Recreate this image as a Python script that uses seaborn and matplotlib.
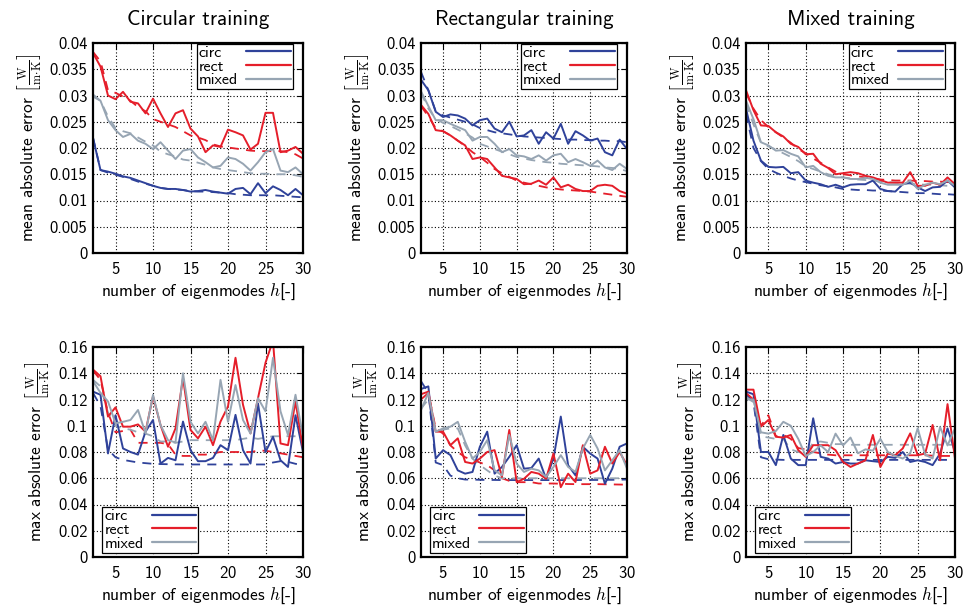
import numpy as np
import pandas as pd
import matplotlib
matplotlib.use("Agg")
import matplotlib.pyplot as plt
from matplotlib.lines import Line2D
from matplotlib.ticker import FixedLocator, FuncFormatter
import seaborn as sns

# ---------------- data ----------------
modes = list(range(2, 31))
series_names = ["circ", "rect", "mixed"]
panel_titles = ["Circular training", "Rectangular training", "Mixed training"]
xlabel_text = r"number of eigenmodes $h$[-]"
ylabel_mean = r"mean absolute error $\left[\frac{\mathrm{W}}{\mathrm{m{\cdot}K}}\right]$"
ylabel_max = r"max absolute error $\left[\frac{\mathrm{W}}{\mathrm{m{\cdot}K}}\right]$"
mean_yticks = [0, 0.005, 0.01, 0.015, 0.02, 0.025, 0.03, 0.035, 0.04]
max_yticks = [0, 0.02, 0.04, 0.06, 0.08, 0.1, 0.12, 0.14, 0.16]
x_ticks = [5, 10, 15, 20, 25, 30]

# Circular training - mean error (solid = measured, dashed = reference)
circtrain_mean_circ = [0.0219,0.0158,0.0155,0.0151,0.0146,0.0143,0.0138,0.0133,0.0128,0.0124,0.0122,0.0122,0.0120,0.0117,0.0118,0.0120,0.0117,0.0115,0.0113,0.0122,0.0124,0.0112,0.0133,0.0114,0.0127,0.0120,0.0110,0.0122,0.0110]
circtrain_mean_circ_d = [0.0220,0.0158,0.0153,0.0149,0.0145,0.0141,0.0136,0.0132,0.0128,0.0124,0.0122,0.0121,0.0120,0.0118,0.0117,0.0117,0.0116,0.0115,0.0114,0.0112,0.0111,0.0110,0.0110,0.0110,0.0110,0.0109,0.0108,0.0107,0.0106]
circtrain_mean_rect = [0.0381,0.0355,0.0300,0.0293,0.0307,0.0288,0.0285,0.0266,0.0294,0.0266,0.0240,0.0266,0.0272,0.0237,0.0222,0.0192,0.0205,0.0202,0.0235,0.0230,0.0224,0.0197,0.0208,0.0267,0.0267,0.0192,0.0195,0.0202,0.0189]
circtrain_mean_rect_d = [0.0383,0.0365,0.0310,0.0305,0.0298,0.0290,0.0278,0.0270,0.0255,0.0250,0.0245,0.0240,0.0232,0.0224,0.0220,0.0215,0.0207,0.0203,0.0201,0.0199,0.0197,0.0195,0.0194,0.0194,0.0194,0.0194,0.0192,0.0188,0.0180]
circtrain_mean_mixed = [0.0298,0.0290,0.0253,0.0234,0.0221,0.0227,0.0214,0.0208,0.0198,0.0211,0.0195,0.0179,0.0195,0.0198,0.0182,0.0173,0.0163,0.0166,0.0182,0.0179,0.0170,0.0157,0.0173,0.0192,0.0198,0.0157,0.0154,0.0163,0.0150]
circtrain_mean_mixed_d = [0.0302,0.0290,0.0260,0.0238,0.0232,0.0228,0.0220,0.0212,0.0205,0.0193,0.0188,0.0184,0.0178,0.0176,0.0172,0.0168,0.0163,0.0160,0.0158,0.0156,0.0154,0.0152,0.0151,0.0151,0.0150,0.0150,0.0150,0.0148,0.0145]

# Rectangular training - mean error
recttrain_mean_circ = [0.0330,0.0310,0.0269,0.0259,0.0264,0.0262,0.0256,0.0243,0.0253,0.0256,0.0237,0.0230,0.0250,0.0222,0.0224,0.0234,0.0208,0.0230,0.0218,0.0246,0.0208,0.0232,0.0224,0.0214,0.0218,0.0192,0.0186,0.0216,0.0198]
recttrain_mean_circ_d = [0.0345,0.0310,0.0270,0.0262,0.0258,0.0254,0.0250,0.0245,0.0238,0.0234,0.0230,0.0228,0.0226,0.0224,0.0222,0.0221,0.0220,0.0219,0.0218,0.0217,0.0216,0.0216,0.0215,0.0215,0.0214,0.0214,0.0213,0.0213,0.0211]
recttrain_mean_rect = [0.0282,0.0265,0.0234,0.0232,0.0224,0.0214,0.0205,0.0179,0.0182,0.0179,0.0163,0.0147,0.0144,0.0141,0.0131,0.0132,0.0138,0.0130,0.0144,0.0125,0.0130,0.0122,0.0118,0.0118,0.0128,0.0130,0.0128,0.0118,0.0113]
recttrain_mean_rect_d = [0.0280,0.0260,0.0238,0.0232,0.0224,0.0214,0.0204,0.0192,0.0183,0.0172,0.0160,0.0152,0.0145,0.0138,0.0134,0.0131,0.0128,0.0125,0.0123,0.0121,0.0120,0.0119,0.0118,0.0117,0.0115,0.0113,0.0111,0.0109,0.0107]
recttrain_mean_mixed = [0.0308,0.0280,0.0253,0.0253,0.0246,0.0240,0.0234,0.0214,0.0221,0.0221,0.0208,0.0192,0.0198,0.0186,0.0184,0.0179,0.0186,0.0176,0.0186,0.0189,0.0173,0.0179,0.0173,0.0166,0.0176,0.0163,0.0158,0.0170,0.0160]
recttrain_mean_mixed_d = [0.0305,0.0275,0.0255,0.0248,0.0242,0.0235,0.0228,0.0220,0.0208,0.0203,0.0198,0.0193,0.0188,0.0183,0.0180,0.0177,0.0175,0.0173,0.0172,0.0170,0.0169,0.0168,0.0167,0.0166,0.0165,0.0163,0.0162,0.0160,0.0156]

# Mixed training - mean error
mixtrain_mean_circ = [0.0275,0.0214,0.0176,0.0164,0.0163,0.0164,0.0152,0.0154,0.0138,0.0134,0.0131,0.0126,0.0130,0.0125,0.0130,0.0131,0.0131,0.0138,0.0122,0.0118,0.0117,0.0131,0.0134,0.0125,0.0118,0.0125,0.0126,0.0138,0.0125]
mixtrain_mean_circ_d = [0.0265,0.0200,0.0175,0.0160,0.0153,0.0147,0.0142,0.0138,0.0135,0.0132,0.0129,0.0127,0.0125,0.0122,0.0121,0.0120,0.0120,0.0119,0.0119,0.0118,0.0117,0.0116,0.0115,0.0114,0.0114,0.0113,0.0112,0.0112,0.0111]
mixtrain_mean_rect = [0.0310,0.0272,0.0243,0.0242,0.0230,0.0222,0.0208,0.0202,0.0188,0.0189,0.0170,0.0162,0.0150,0.0152,0.0154,0.0152,0.0147,0.0144,0.0139,0.0134,0.0134,0.0134,0.0154,0.0128,0.0128,0.0134,0.0130,0.0144,0.0131]
mixtrain_mean_rect_d = [0.0305,0.0275,0.0253,0.0240,0.0230,0.0220,0.0210,0.0198,0.0190,0.0180,0.0172,0.0163,0.0155,0.0150,0.0148,0.0146,0.0144,0.0142,0.0140,0.0139,0.0138,0.0138,0.0138,0.0137,0.0137,0.0136,0.0136,0.0135,0.0135]
mixtrain_mean_mixed = [0.0290,0.0255,0.0211,0.0205,0.0195,0.0196,0.0189,0.0184,0.0163,0.0166,0.0154,0.0147,0.0144,0.0144,0.0141,0.0141,0.0143,0.0141,0.0134,0.0130,0.0130,0.0130,0.0138,0.0122,0.0130,0.0134,0.0131,0.0138,0.0128]
mixtrain_mean_mixed_d = [0.0285,0.0245,0.0210,0.0203,0.0197,0.0190,0.0183,0.0175,0.0165,0.0160,0.0155,0.0150,0.0146,0.0144,0.0142,0.0140,0.0139,0.0138,0.0136,0.0135,0.0134,0.0133,0.0132,0.0131,0.0130,0.0130,0.0129,0.0128,0.0127]

# Circular training - max error
circtrain_max_circ = [0.1260,0.1236,0.0789,0.1080,0.0827,0.0800,0.0780,0.0955,0.1044,0.0712,0.0755,0.0737,0.1032,0.0814,0.0730,0.0730,0.0755,0.0852,0.0814,0.1083,0.0814,0.0712,0.1170,0.0800,0.0916,0.0737,0.0686,0.1080,0.0800]
circtrain_max_circ_d = [0.1250,0.1150,0.0820,0.0760,0.0740,0.0730,0.0720,0.0715,0.0710,0.0708,0.0707,0.0706,0.0705,0.0705,0.0705,0.0705,0.0705,0.0705,0.0705,0.0705,0.0705,0.0705,0.0705,0.0705,0.0720,0.0730,0.0725,0.0710,0.0700]
circtrain_max_rect = [0.1428,0.1377,0.1070,0.1140,0.0993,0.0993,0.1010,0.0955,0.1224,0.1006,0.0840,0.0980,0.1364,0.0968,0.0904,0.0993,0.0852,0.1032,0.1147,0.1518,0.1160,0.0942,0.1210,0.1480,0.1650,0.0865,0.0852,0.1185,0.0827]
circtrain_max_rect_d = [0.1420,0.1350,0.1100,0.0950,0.0960,0.0970,0.0870,0.0870,0.0870,0.0870,0.0860,0.0780,0.0770,0.0770,0.0780,0.0780,0.0790,0.0800,0.0800,0.0800,0.0800,0.0800,0.0810,0.0810,0.0800,0.0790,0.0780,0.0770,0.0760]
circtrain_max_mixed = [0.1340,0.1250,0.1185,0.1019,0.1030,0.1044,0.1120,0.0942,0.1236,0.1006,0.0890,0.0873,0.1400,0.1030,0.0942,0.1030,0.0890,0.1350,0.1030,0.1310,0.1044,0.0940,0.1210,0.1110,0.1518,0.1110,0.0930,0.1236,0.0916]
circtrain_max_mixed_d = [0.1350,0.1300,0.1100,0.1000,0.0980,0.0970,0.0950,0.0940,0.0920,0.0880,0.0880,0.0870,0.0880,0.0890,0.0890,0.0890,0.0890,0.0890,0.0890,0.0890,0.0900,0.0910,0.0900,0.0910,0.0920,0.0920,0.0920,0.0920,0.0920]

# Rectangular training - max error
recttrain_max_circ = [0.1280,0.1300,0.0750,0.0814,0.0776,0.0660,0.0635,0.0648,0.0840,0.0955,0.0635,0.0686,0.0763,0.0852,0.0673,0.0678,0.0750,0.0596,0.0750,0.1070,0.0699,0.0622,0.0840,0.0788,0.0750,0.0558,0.0673,0.0840,0.0865]
recttrain_max_circ_d = [0.1340,0.1250,0.0720,0.0700,0.0620,0.0600,0.0590,0.0590,0.0588,0.0587,0.0587,0.0586,0.0586,0.0586,0.0586,0.0586,0.0586,0.0586,0.0586,0.0586,0.0586,0.0586,0.0587,0.0587,0.0587,0.0588,0.0588,0.0589,0.0590]
recttrain_max_rect = [0.1240,0.1260,0.0955,0.0955,0.0852,0.0904,0.0724,0.0712,0.0750,0.0800,0.0814,0.0610,0.0968,0.0571,0.0596,0.0648,0.0635,0.0596,0.0788,0.0532,0.0635,0.0571,0.0852,0.0635,0.0660,0.0840,0.0712,0.0800,0.0699]
recttrain_max_rect_d = [0.1200,0.1250,0.0980,0.0940,0.0850,0.0800,0.0760,0.0740,0.0720,0.0700,0.0660,0.0600,0.0580,0.0570,0.0570,0.0570,0.0560,0.0560,0.0560,0.0558,0.0556,0.0555,0.0555,0.0555,0.0555,0.0554,0.0553,0.0552,0.0551]
recttrain_max_mixed = [0.1120,0.1250,0.0955,0.0980,0.0993,0.1030,0.0878,0.0750,0.0800,0.0890,0.0660,0.0622,0.0930,0.0712,0.0648,0.0673,0.0660,0.0610,0.0686,0.0776,0.0686,0.0648,0.0827,0.0930,0.0827,0.0660,0.0737,0.0814,0.0673]
recttrain_max_mixed_d = [0.1130,0.1200,0.0960,0.0970,0.0980,0.0980,0.0850,0.0750,0.0700,0.0660,0.0620,0.0600,0.0600,0.0600,0.0600,0.0600,0.0600,0.0600,0.0600,0.0600,0.0600,0.0600,0.0600,0.0600,0.0600,0.0600,0.0600,0.0600,0.0600]

# Mixed training - max error
mixtrain_max_circ = [0.1260,0.1240,0.0800,0.0800,0.0700,0.0930,0.0750,0.0700,0.0700,0.1057,0.0763,0.0750,0.0712,0.0724,0.0712,0.0712,0.0737,0.0730,0.0724,0.0763,0.0755,0.0800,0.0724,0.0737,0.0724,0.0700,0.0788,0.0980,0.0800]
mixtrain_max_circ_d = [0.1240,0.1180,0.0760,0.0745,0.0742,0.0740,0.0740,0.0740,0.0740,0.0740,0.0740,0.0740,0.0740,0.0740,0.0740,0.0740,0.0740,0.0740,0.0740,0.0740,0.0740,0.0740,0.0740,0.0740,0.0740,0.0740,0.0740,0.0740,0.0740]
mixtrain_max_rect = [0.1275,0.1275,0.0993,0.1044,0.0916,0.0910,0.0930,0.0814,0.0763,0.0852,0.0852,0.0852,0.0814,0.0724,0.0686,0.0712,0.0737,0.0930,0.0686,0.0788,0.0776,0.0827,0.0942,0.0776,0.0788,0.1006,0.0737,0.1165,0.0750]
mixtrain_max_rect_d = [0.1250,0.1200,0.1000,0.1080,0.0920,0.0930,0.0900,0.0830,0.0820,0.0800,0.0790,0.0780,0.0775,0.0775,0.0775,0.0775,0.0775,0.0775,0.0775,0.0775,0.0775,0.0775,0.0775,0.0775,0.0775,0.0772,0.0770,0.0770,0.0770]
mixtrain_max_mixed = [0.1200,0.1200,0.0950,0.0940,0.0960,0.1030,0.1000,0.0900,0.0770,0.0800,0.0850,0.0800,0.0940,0.0850,0.0910,0.0790,0.0820,0.0810,0.0900,0.0800,0.0770,0.0750,0.0790,0.0980,0.0780,0.0750,0.0990,0.0850,0.0980]
mixtrain_max_mixed_d = [0.1220,0.1180,0.0920,0.0910,0.0900,0.0900,0.0820,0.0800,0.0790,0.0870,0.0880,0.0870,0.0860,0.0860,0.0855,0.0855,0.0855,0.0855,0.0855,0.0855,0.0855,0.0855,0.0855,0.0855,0.0855,0.0855,0.0855,0.0855,0.0855]

panels = [
    [(circtrain_mean_circ, circtrain_mean_circ_d), (circtrain_mean_rect, circtrain_mean_rect_d), (circtrain_mean_mixed, circtrain_mean_mixed_d)],
    [(recttrain_mean_circ, recttrain_mean_circ_d), (recttrain_mean_rect, recttrain_mean_rect_d), (recttrain_mean_mixed, recttrain_mean_mixed_d)],
    [(mixtrain_mean_circ, mixtrain_mean_circ_d), (mixtrain_mean_rect, mixtrain_mean_rect_d), (mixtrain_mean_mixed, mixtrain_mean_mixed_d)],
    [(circtrain_max_circ, circtrain_max_circ_d), (circtrain_max_rect, circtrain_max_rect_d), (circtrain_max_mixed, circtrain_max_mixed_d)],
    [(recttrain_max_circ, recttrain_max_circ_d), (recttrain_max_rect, recttrain_max_rect_d), (recttrain_max_mixed, recttrain_max_mixed_d)],
    [(mixtrain_max_circ, mixtrain_max_circ_d), (mixtrain_max_rect, mixtrain_max_rect_d), (mixtrain_max_mixed, mixtrain_max_mixed_d)],
]

colors = {"circ": "#2f429a", "rect": "#e51e2a", "mixed": "#97a5b3"}

# ---------------- style ----------------
sns.set_theme(style="white")
plt.rcParams["font.family"] = ["cmss10", "DejaVu Sans"]
plt.rcParams["mathtext.fontset"] = "cm"
plt.rcParams["axes.unicode_minus"] = False
plt.rcParams["axes.formatter.use_mathtext"] = True

fig = plt.figure(figsize=(9.68, 6.13), dpi=100)
W, H = 968.0, 613.0
col_l = [93, 421, 746]
col_w = [210, 206, 209]
row_top = [43, 347]
ax_h = 210

fmt = FuncFormatter(lambda v, p: ("%g" % round(v, 4)))
LEG_FS = 11.5
HTP = 0.5

legends = []
for idx, pdata in enumerate(panels):
    r, c = divmod(idx, 3)
    ax = fig.add_axes([col_l[c] / W, 1 - (row_top[r] + ax_h) / H, col_w[c] / W, ax_h / H])
    rows = []
    for name, (solid, dashed) in zip(series_names, pdata):
        for xv, yv in zip(modes, solid):
            rows.append((xv, yv, name, "solid"))
        for xv, yv in zip(modes, dashed):
            rows.append((xv, yv, name, "dashed"))
    df = pd.DataFrame(rows, columns=["h", "err", "geom", "kind"])
    for name in series_names:
        sub = df[(df.geom == name) & (df.kind == "dashed")]
        sns.lineplot(data=sub, x="h", y="err", ax=ax, color=colors[name], lw=1.3,
                     dashes=False, legend=False, estimator=None, sort=False)
        ax.lines[-1].set_dashes([5, 4])
    for name in series_names:
        sub = df[(df.geom == name) & (df.kind == "solid")]
        sns.lineplot(data=sub, x="h", y="err", ax=ax, color=colors[name], lw=1.4,
                     legend=False, estimator=None, sort=False)

    ax.set_xlim(2, 30)
    yt = mean_yticks if r == 0 else max_yticks
    ax.set_ylim(yt[0], yt[-1])
    ax.xaxis.set_major_locator(FixedLocator(x_ticks))
    ax.yaxis.set_major_locator(FixedLocator(yt))
    ax.yaxis.set_major_formatter(fmt)
    ax.grid(True, color="black", linestyle=(0, (1, 2)), linewidth=0.8)
    ax.tick_params(axis="both", direction="in", length=4, width=0.8, top=True, right=True,
                   labelsize=12, colors="black", pad=4)
    ax.tick_params(axis="x", pad=6)
    for sp in ax.spines.values():
        sp.set_linewidth(1.6)
        sp.set_color("black")
        sp.set_visible(True)
    ax.set_facecolor("white")
    ax.set_xlabel(xlabel_text, fontsize=12.5, labelpad=3, color="black")
    ax.set_ylabel(ylabel_mean if r == 0 else ylabel_max, fontsize=12.5, labelpad=5, color="black")
    if r == 0:
        ax.set_title(panel_titles[c], fontsize=15.2, pad=13, color="black")

    handles = [Line2D([], [], color=colors[n], lw=1.6) for n in series_names]
    common = dict(markerfirst=False, fontsize=LEG_FS, handlelength=2.8, handletextpad=HTP,
                  labelspacing=-0.02, borderpad=0.12, borderaxespad=0.0, fancybox=False,
                  framealpha=1, edgecolor="black")
    if r == 0:
        leg = ax.legend(handles, series_names, loc="upper right", bbox_to_anchor=(0.95, 0.997), **common)
    else:
        leg = ax.legend(handles, series_names, loc="lower left", bbox_to_anchor=(0.045, 0.02), **common)
    leg.get_frame().set_linewidth(0.9)
    for t in leg.get_texts():
        t.set_color("black")
    legends.append(leg)

# left-align legend texts while keeping the line samples right-aligned (gnuplot style)
renderer = fig.canvas.get_renderer()
for leg in legends:
    texts = leg.get_texts()
    widths = [t.get_window_extent(renderer).width for t in texts]
    maxw = max(widths)
    cols = leg._legend_handle_box.get_children()
    rowboxes = [rb for col in cols for rb in col.get_children()]
    for rb, w in zip(rowboxes, widths):
        rb.sep = HTP * LEG_FS + (maxw - w) * 72.0 / fig.dpi

fig.savefig("out.png", dpi=100, facecolor="white")
